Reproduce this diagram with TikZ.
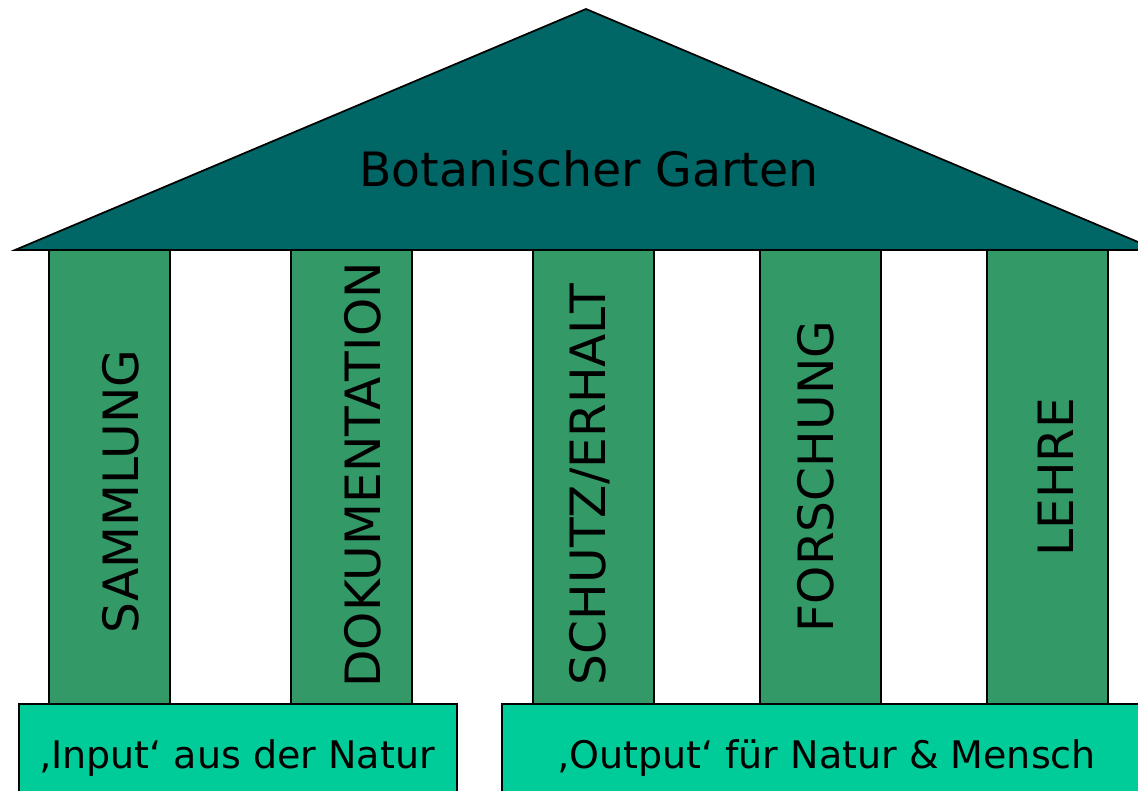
\documentclass[tikz,border=0pt]{standalone}
\usepackage{fontspec}
\setmainfont{DejaVu Sans}
\definecolor{roofteal}{RGB}{0,102,102}
\definecolor{pillargreen}{RGB}{51,153,102}
\definecolor{basegreen}{RGB}{0,204,153}

\begin{document}
\begin{tikzpicture}[x=0.75pt,y=-0.75pt,
    roof/.style={fill=roofteal,draw=black,line width=1.3pt},
    pillar/.style={fill=pillargreen,draw=black,line width=1.3pt},
    base/.style={fill=basegreen,draw=black,line width=1.3pt},
    pillartext/.style={rotate=90,anchor=base,inner sep=0pt,font=\fontsize{36.5}{40}\selectfont},
    basetext/.style={anchor=base,inner sep=0pt,font=\fontsize{28.5}{32}\selectfont}]
  \useasboundingbox (0,0) rectangle (1138,791);
  \clip (0,0) rectangle (1138,791);
  % Roof
  \draw[roof] (15,250) -- (586,9) -- (1157,250) -- cycle;
  \node[anchor=base,inner sep=0pt,font=\fontsize{35.5}{40}\selectfont] (title) at (589,187) {Botanischer Garten};
  % Pillars
  \foreach \x in {49, 291, 533, 760, 987} {
    \draw[pillar] (\x,250) rectangle (\x+121,705);
  }
  \node[pillartext] (sammlung) at (138,491.5) {SAMMLUNG};
  \node[pillartext] (doku) at (380,475) {DOKUMENTATION};
  \node[pillartext] (schutz) at (605,484.5) {SCHUTZ/ERHALT};
  \node[pillartext] (forschung) at (833,476.5) {FORSCHUNG};
  \node[pillartext] (lehre) at (1073,477) {LEHRE};
  % Base
  \draw[base] (19,704) rectangle (457,820);
  \draw[base] (502,704) rectangle (1170,820);
  \node[basetext] (input) at (237,768) {‚Input‘ aus der Natur};
  \node[basetext] (output) at (826.5,768) {‚Output‘ für Natur \& Mensch};
\end{tikzpicture}
\end{document}
